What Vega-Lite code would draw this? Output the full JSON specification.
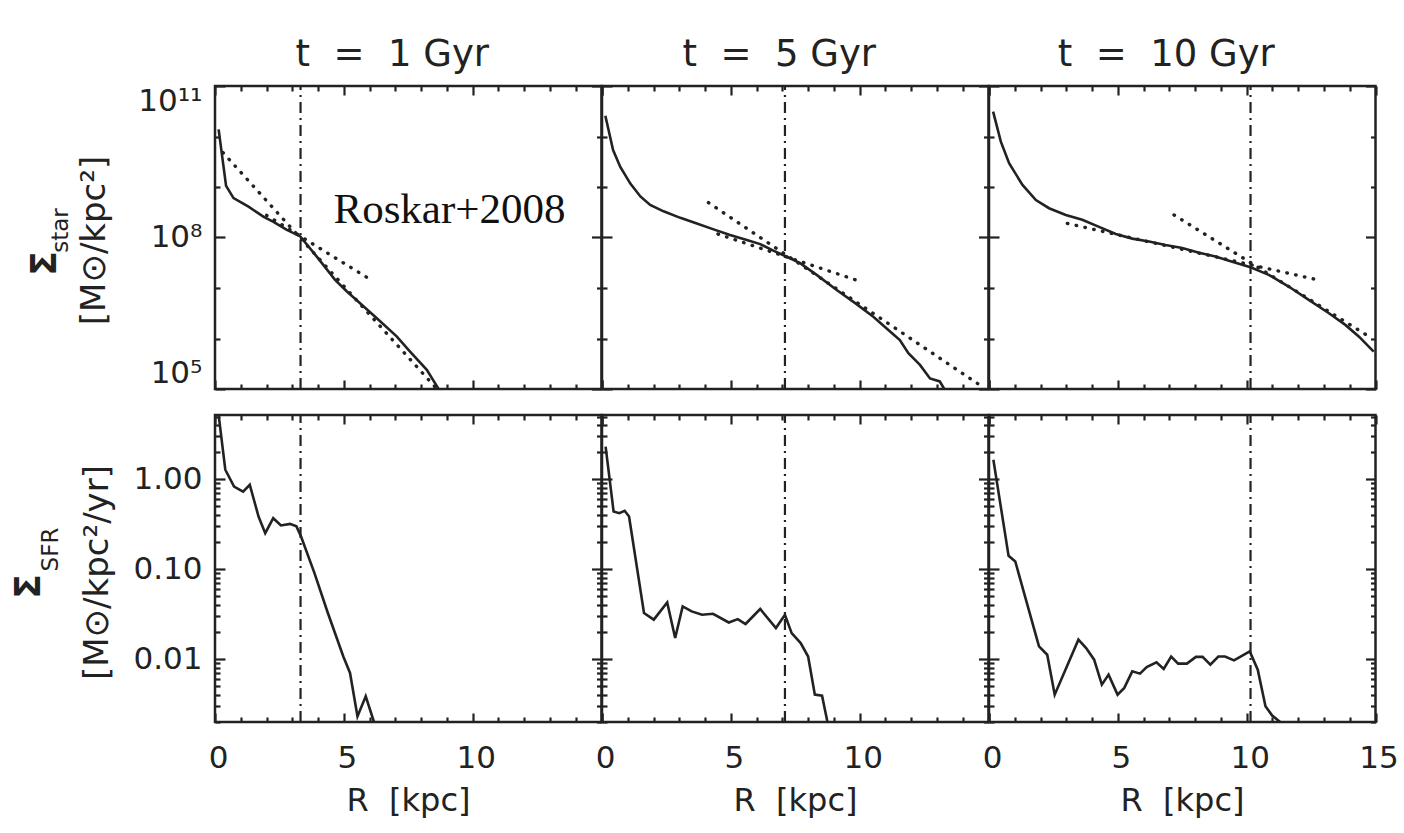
{
  "$schema": "https://vega.github.io/schema/vega-lite/v6.json",
  "background": "white",
  "padding": {"left": 8, "top": 34, "right": 10, "bottom": 8},
  "bounds": "flush",
  "align": "all",
  "columns": 3,
  "spacing": {"row": 22, "column": 0},
  "config": {
    "view": {"stroke": "#222", "strokeWidth": 2.5},
    "font": "DejaVu Sans",
    "axis": {"domain": false, "grid": false, "minExtent": 0, "maxExtent": 400, "tickColor": "#222", "tickWidth": 2.2, "labelColor": "#222", "labelFont": "DejaVu Sans", "labelFontSize": 31, "titleColor": "#222", "titleFont": "DejaVu Sans", "titleFontWeight": "normal", "labelFlush": false, "labelOverlap": false, "labelBound": false},
    "title": {"font": "DejaVu Sans", "fontSize": 37, "fontWeight": "normal", "color": "#222"}
  },
  "datasets": {
    "star": [
      {"t": 1, "R": 0.14, "v": 1.38e10}, {"t": 1, "R": 0.43, "v": 1.05e9}, {"t": 1, "R": 0.72, "v": 6.03e8}, {"t": 1, "R": 1.30, "v": 4.07e8}, {"t": 1, "R": 1.89, "v": 2.57e8}, {"t": 1, "R": 2.27, "v": 2.04e8}, {"t": 1, "R": 2.79, "v": 1.41e8}, {"t": 1, "R": 3.31, "v": 1.05e8}, {"t": 1, "R": 3.95, "v": 4.17e7}, {"t": 1, "R": 4.66, "v": 1.45e7}, {"t": 1, "R": 5.12, "v": 8.51e6}, {"t": 1, "R": 5.63, "v": 5.01e6}, {"t": 1, "R": 6.28, "v": 2.51e6}, {"t": 1, "R": 7.05, "v": 1.10e6}, {"t": 1, "R": 7.57, "v": 5.5e5}, {"t": 1, "R": 8.22, "v": 2.4e5}, {"t": 1, "R": 8.67, "v": 1.02e5},
      {"t": 5, "R": 0.13, "v": 2.57e10}, {"t": 5, "R": 0.43, "v": 5.4e9}, {"t": 5, "R": 0.71, "v": 2.5e9}, {"t": 5, "R": 1.10, "v": 1.17e9}, {"t": 5, "R": 1.49, "v": 6.5e8}, {"t": 5, "R": 1.87, "v": 4.4e8}, {"t": 5, "R": 2.39, "v": 3.3e8}, {"t": 5, "R": 3.04, "v": 2.45e8}, {"t": 5, "R": 3.68, "v": 1.9e8}, {"t": 5, "R": 4.33, "v": 1.45e8}, {"t": 5, "R": 4.97, "v": 1.12e8}, {"t": 5, "R": 5.62, "v": 8.9e7}, {"t": 5, "R": 6.14, "v": 7.4e7}, {"t": 5, "R": 6.65, "v": 5.5e7}, {"t": 5, "R": 7.11, "v": 4.3e7}, {"t": 5, "R": 7.69, "v": 3.1e7}, {"t": 5, "R": 8.33, "v": 1.82e7}, {"t": 5, "R": 9.11, "v": 9.1e6}, {"t": 5, "R": 9.88, "v": 4.8e6}, {"t": 5, "R": 10.53, "v": 2.7e6}, {"t": 5, "R": 11.18, "v": 1.38e6}, {"t": 5, "R": 11.56, "v": 9.3e5}, {"t": 5, "R": 11.89, "v": 5.1e5}, {"t": 5, "R": 12.34, "v": 3.0e5}, {"t": 5, "R": 12.73, "v": 1.62e5}, {"t": 5, "R": 13.11, "v": 1.41e5}, {"t": 5, "R": 13.31, "v": 9.5e4},
      {"t": 10, "R": 0.16, "v": 3.1e10}, {"t": 10, "R": 0.46, "v": 7.9e9}, {"t": 10, "R": 0.78, "v": 2.95e9}, {"t": 10, "R": 1.30, "v": 1.1e9}, {"t": 10, "R": 1.82, "v": 5.5e8}, {"t": 10, "R": 2.33, "v": 3.8e8}, {"t": 10, "R": 2.98, "v": 2.8e8}, {"t": 10, "R": 3.62, "v": 2.24e8}, {"t": 10, "R": 4.27, "v": 1.62e8}, {"t": 10, "R": 4.92, "v": 1.17e8}, {"t": 10, "R": 5.56, "v": 9.5e7}, {"t": 10, "R": 6.21, "v": 8.3e7}, {"t": 10, "R": 6.85, "v": 7.1e7}, {"t": 10, "R": 7.50, "v": 6.2e7}, {"t": 10, "R": 8.15, "v": 5.0e7}, {"t": 10, "R": 8.79, "v": 4.2e7}, {"t": 10, "R": 9.44, "v": 3.3e7}, {"t": 10, "R": 10.15, "v": 2.57e7}, {"t": 10, "R": 10.86, "v": 1.82e7}, {"t": 10, "R": 11.63, "v": 1.07e7}, {"t": 10, "R": 12.41, "v": 5.8e6}, {"t": 10, "R": 13.18, "v": 3.2e6}, {"t": 10, "R": 13.83, "v": 1.86e6}, {"t": 10, "R": 14.35, "v": 1.1e6}, {"t": 10, "R": 14.93, "v": 5.5e5}
    ],
    "fit": [
      {"t": 1, "seg": "a", "R": 2.0, "v": 2.75e8}, {"t": 1, "seg": "a", "R": 6.02, "v": 1.48e7},
      {"t": 1, "seg": "b", "R": 0.31, "v": 4.8e9}, {"t": 1, "seg": "b", "R": 8.6, "v": 1.02e5},
      {"t": 5, "seg": "a", "R": 4.5, "v": 1.17e8}, {"t": 5, "seg": "a", "R": 10.08, "v": 1.32e7},
      {"t": 5, "seg": "b", "R": 4.13, "v": 4.9e8}, {"t": 5, "seg": "b", "R": 14.66, "v": 1.2e5},
      {"t": 10, "seg": "a", "R": 3.04, "v": 1.9e8}, {"t": 10, "seg": "a", "R": 12.86, "v": 1.41e7},
      {"t": 10, "seg": "b", "R": 7.18, "v": 2.8e8}, {"t": 10, "seg": "b", "R": 14.87, "v": 1.0e6}
    ],
    "sfr": [
      {"t": 1, "R": 0.10, "v": 6.5}, {"t": 1, "R": 0.40, "v": 1.28}, {"t": 1, "R": 0.74, "v": 0.83}, {"t": 1, "R": 1.09, "v": 0.73}, {"t": 1, "R": 1.35, "v": 0.87}, {"t": 1, "R": 1.69, "v": 0.386}, {"t": 1, "R": 1.95, "v": 0.252}, {"t": 1, "R": 2.26, "v": 0.37}, {"t": 1, "R": 2.56, "v": 0.307}, {"t": 1, "R": 2.91, "v": 0.32}, {"t": 1, "R": 3.16, "v": 0.30}, {"t": 1, "R": 3.34, "v": 0.231}, {"t": 1, "R": 3.86, "v": 0.0907}, {"t": 1, "R": 4.38, "v": 0.0326}, {"t": 1, "R": 4.98, "v": 0.0107}, {"t": 1, "R": 5.24, "v": 0.00703}, {"t": 1, "R": 5.53, "v": 0.00231}, {"t": 1, "R": 5.85, "v": 0.00386}, {"t": 1, "R": 6.17, "v": 0.002},
      {"t": 5, "R": 0.14, "v": 2.31}, {"t": 5, "R": 0.45, "v": 0.439}, {"t": 5, "R": 0.67, "v": 0.421}, {"t": 5, "R": 0.88, "v": 0.447}, {"t": 5, "R": 1.05, "v": 0.386}, {"t": 5, "R": 1.63, "v": 0.0326}, {"t": 5, "R": 2.01, "v": 0.0275}, {"t": 5, "R": 2.53, "v": 0.0428}, {"t": 5, "R": 2.84, "v": 0.0172}, {"t": 5, "R": 3.13, "v": 0.0386}, {"t": 5, "R": 3.48, "v": 0.034}, {"t": 5, "R": 3.88, "v": 0.0312}, {"t": 5, "R": 4.31, "v": 0.032}, {"t": 5, "R": 4.92, "v": 0.0256}, {"t": 5, "R": 5.27, "v": 0.0279}, {"t": 5, "R": 5.57, "v": 0.0246}, {"t": 5, "R": 6.14, "v": 0.0361}, {"t": 5, "R": 6.75, "v": 0.0222}, {"t": 5, "R": 7.10, "v": 0.0312}, {"t": 5, "R": 7.36, "v": 0.0195}, {"t": 5, "R": 7.71, "v": 0.0151}, {"t": 5, "R": 8.00, "v": 0.0107}, {"t": 5, "R": 8.26, "v": 0.00403}, {"t": 5, "R": 8.54, "v": 0.00393}, {"t": 5, "R": 8.75, "v": 0.002},
      {"t": 10, "R": 0.17, "v": 1.65}, {"t": 10, "R": 0.76, "v": 0.141}, {"t": 10, "R": 1.02, "v": 0.122}, {"t": 10, "R": 1.94, "v": 0.0139}, {"t": 10, "R": 2.26, "v": 0.0112}, {"t": 10, "R": 2.55, "v": 0.00403}, {"t": 10, "R": 3.47, "v": 0.0165}, {"t": 10, "R": 3.77, "v": 0.0133}, {"t": 10, "R": 4.08, "v": 0.00987}, {"t": 10, "R": 4.38, "v": 0.00521}, {"t": 10, "R": 4.64, "v": 0.00673}, {"t": 10, "R": 4.99, "v": 0.00403}, {"t": 10, "R": 5.25, "v": 0.00479}, {"t": 10, "R": 5.56, "v": 0.00732}, {"t": 10, "R": 5.86, "v": 0.0069}, {"t": 10, "R": 6.12, "v": 0.00819}, {"t": 10, "R": 6.50, "v": 0.00921}, {"t": 10, "R": 6.78, "v": 0.00778}, {"t": 10, "R": 7.07, "v": 0.0107}, {"t": 10, "R": 7.34, "v": 0.00892}, {"t": 10, "R": 7.68, "v": 0.00892}, {"t": 10, "R": 8.03, "v": 0.0106}, {"t": 10, "R": 8.29, "v": 0.0106}, {"t": 10, "R": 8.59, "v": 0.00869}, {"t": 10, "R": 8.90, "v": 0.0107}, {"t": 10, "R": 9.16, "v": 0.0107}, {"t": 10, "R": 9.51, "v": 0.0097}, {"t": 10, "R": 10.12, "v": 0.0122}, {"t": 10, "R": 10.43, "v": 0.00764}, {"t": 10, "R": 10.73, "v": 0.00299}, {"t": 10, "R": 10.99, "v": 0.00236}, {"t": 10, "R": 11.30, "v": 0.002}
    ],
    "brk": [{"t": 1, "Rb": 3.32}, {"t": 5, "Rb": 7.1}, {"t": 10, "Rb": 10.15}]
  },
  "concat": [
    {
      "width": 386.5, "height": 303,
      "title": {"text": "t\u00a0\u00a0=\u00a0\u00a01 Gyr", "dx": -16, "offset": 11, "frame": "group", "anchor": "middle"},
      "resolve": {"axis": {"x": "independent", "y": "independent"}},
      "layer": [
        {
          "data": {"name": "star"}, "transform": [{"filter": "datum.t === 1"}],
          "mark": {"type": "line", "color": "#222", "strokeWidth": 2.6, "clip": true},
          "encoding": {
            "x": {"field": "R", "type": "quantitative", "scale": {"domain": [0, 15], "nice": false, "zero": false},
                  "axis": {"orient": "bottom", "values": [0,1,2,3,4,5,6,7,8,9,10,11,12,13,14,15], "labels": false, "tickSize": {"condition": {"test": "datum.value % 5 === 0", "value": -9}, "value": -5}, "title": null}},
            "y": {"field": "v", "type": "quantitative", "scale": {"type": "log", "domain": [1e5, 1e11], "nice": false},
                  "axis": {"orient": "left", "values": [1e5,1e6,1e7,1e8,1e9,1e10,1e11], "labelExpr": "datum.value === 1e11 ? '10\u00b9\u00b9' : datum.value === 1e8 ? '10\u2078' : datum.value === 1e5 ? '10\u2075' : ''", "labelFlush": true, "labelPadding": 23, "tickSize": {"condition": {"test": "datum.value === 1e5 || datum.value === 1e8 || datum.value === 1e11", "value": -10}, "value": -5},
                           "title": "[M\u2299/kpc\u00b2]", "titleX": -121, "titleY": 154, "titleAngle": 270, "titleAlign": "center", "titleBaseline": "middle", "titleFontSize": 34}}
          }
        },
        {
          "data": {"name": "fit"}, "transform": [{"filter": "datum.t === 1"}],
          "mark": {"type": "line", "color": "#222", "strokeWidth": 3.4, "strokeDash": [0.5, 8.5], "strokeCap": "round", "clip": true},
          "encoding": {"x": {"field": "R", "type": "quantitative", "axis": null}, "y": {"field": "v", "type": "quantitative", "axis": null}, "detail": {"field": "seg"}}
        },
        {
          "data": {"name": "brk"}, "transform": [{"filter": "datum.t === 1"}],
          "mark": {"type": "rule", "color": "#222", "strokeWidth": 2.2, "strokeDash": [11, 5, 2, 5]},
          "encoding": {
            "x": {"field": "Rb", "type": "quantitative", "axis": {"orient": "top", "values": [0,1,2,3,4,5,6,7,8,9,10,11,12,13,14,15], "labels": false, "tickSize": {"condition": {"test": "datum.value % 5 === 0", "value": -9}, "value": -5},
                   "title": "\u03a3", "titleX": -171, "titleY": 177, "titleAngle": 270, "titleAlign": "center", "titleBaseline": "middle", "titleFontSize": 36, "titleFontWeight": "bold"}},
            "y": {"datum": 1e5, "type": "quantitative", "axis": {"orient": "right", "values": [1e5,1e6,1e7,1e8,1e9,1e10,1e11], "labels": false, "tickSize": {"condition": {"test": "datum.value === 1e5 || datum.value === 1e8 || datum.value === 1e11", "value": -10}, "value": -5},
                   "title": "star", "titleX": -541.5, "titleY": 144, "titleAngle": 270, "titleAlign": "center", "titleBaseline": "middle", "titleFontSize": 23}},
            "y2": {"datum": 1e11}
          }
        },
        {
          "data": {"values": [{"label": "Roskar+2008"}]},
          "mark": {"type": "text", "font": "Liberation Serif", "fontSize": 43, "align": "center", "baseline": "alphabetic", "color": "#111"},
          "encoding": {"x": {"datum": 9.1, "type": "quantitative", "axis": null}, "y": {"datum": 1.95e8, "type": "quantitative", "axis": null}, "text": {"field": "label"}}
        }
      ]
    },
    {
      "width": 386.5, "height": 303,
      "title": {"text": "t\u00a0\u00a0=\u00a0\u00a05 Gyr", "dx": -16, "offset": 11, "frame": "group", "anchor": "middle"},
      "resolve": {"axis": {"x": "independent", "y": "independent"}},
      "layer": [
        {
          "data": {"name": "star"}, "transform": [{"filter": "datum.t === 5"}],
          "mark": {"type": "line", "color": "#222", "strokeWidth": 2.6, "clip": true},
          "encoding": {
            "x": {"field": "R", "type": "quantitative", "scale": {"domain": [0, 15], "nice": false, "zero": false},
                  "axis": {"orient": "bottom", "values": [0,1,2,3,4,5,6,7,8,9,10,11,12,13,14,15], "labels": false, "tickSize": {"condition": {"test": "datum.value % 5 === 0", "value": -9}, "value": -5}, "title": null}},
            "y": {"field": "v", "type": "quantitative", "scale": {"type": "log", "domain": [1e5, 1e11], "nice": false},
                  "axis": {"orient": "left", "values": [1e5,1e6,1e7,1e8,1e9,1e10,1e11], "labels": false, "tickSize": {"condition": {"test": "datum.value === 1e5 || datum.value === 1e8 || datum.value === 1e11", "value": -10}, "value": -5}, "title": null}}
          }
        },
        {
          "data": {"name": "fit"}, "transform": [{"filter": "datum.t === 5"}],
          "mark": {"type": "line", "color": "#222", "strokeWidth": 3.4, "strokeDash": [0.5, 8.5], "strokeCap": "round", "clip": true},
          "encoding": {"x": {"field": "R", "type": "quantitative", "axis": null}, "y": {"field": "v", "type": "quantitative", "axis": null}, "detail": {"field": "seg"}}
        },
        {
          "data": {"name": "brk"}, "transform": [{"filter": "datum.t === 5"}],
          "mark": {"type": "rule", "color": "#222", "strokeWidth": 2.2, "strokeDash": [11, 5, 2, 5]},
          "encoding": {
            "x": {"field": "Rb", "type": "quantitative", "axis": {"orient": "top", "values": [0,1,2,3,4,5,6,7,8,9,10,11,12,13,14,15], "labels": false, "tickSize": {"condition": {"test": "datum.value % 5 === 0", "value": -9}, "value": -5}, "title": null}},
            "y": {"datum": 1e5, "type": "quantitative", "axis": {"orient": "right", "values": [1e5,1e6,1e7,1e8,1e9,1e10,1e11], "labels": false, "tickSize": {"condition": {"test": "datum.value === 1e5 || datum.value === 1e8 || datum.value === 1e11", "value": -10}, "value": -5}, "title": null}},
            "y2": {"datum": 1e11}
          }
        }
      ]
    },
    {
      "width": 386.5, "height": 303,
      "title": {"text": "t\u00a0\u00a0=\u00a0\u00a010 Gyr", "dx": -16, "offset": 11, "frame": "group", "anchor": "middle"},
      "resolve": {"axis": {"x": "independent", "y": "independent"}},
      "layer": [
        {
          "data": {"name": "star"}, "transform": [{"filter": "datum.t === 10"}],
          "mark": {"type": "line", "color": "#222", "strokeWidth": 2.6, "clip": true},
          "encoding": {
            "x": {"field": "R", "type": "quantitative", "scale": {"domain": [0, 15], "nice": false, "zero": false},
                  "axis": {"orient": "bottom", "values": [0,1,2,3,4,5,6,7,8,9,10,11,12,13,14,15], "labels": false, "tickSize": {"condition": {"test": "datum.value % 5 === 0", "value": -9}, "value": -5}, "title": null}},
            "y": {"field": "v", "type": "quantitative", "scale": {"type": "log", "domain": [1e5, 1e11], "nice": false},
                  "axis": {"orient": "left", "values": [1e5,1e6,1e7,1e8,1e9,1e10,1e11], "labels": false, "tickSize": {"condition": {"test": "datum.value === 1e5 || datum.value === 1e8 || datum.value === 1e11", "value": -10}, "value": -5}, "title": null}}
          }
        },
        {
          "data": {"name": "fit"}, "transform": [{"filter": "datum.t === 10"}],
          "mark": {"type": "line", "color": "#222", "strokeWidth": 3.4, "strokeDash": [0.5, 8.5], "strokeCap": "round", "clip": true},
          "encoding": {"x": {"field": "R", "type": "quantitative", "axis": null}, "y": {"field": "v", "type": "quantitative", "axis": null}, "detail": {"field": "seg"}}
        },
        {
          "data": {"name": "brk"}, "transform": [{"filter": "datum.t === 10"}],
          "mark": {"type": "rule", "color": "#222", "strokeWidth": 2.2, "strokeDash": [11, 5, 2, 5]},
          "encoding": {
            "x": {"field": "Rb", "type": "quantitative", "axis": {"orient": "top", "values": [0,1,2,3,4,5,6,7,8,9,10,11,12,13,14,15], "labels": false, "tickSize": {"condition": {"test": "datum.value % 5 === 0", "value": -9}, "value": -5}, "title": null}},
            "y": {"datum": 1e5, "type": "quantitative", "axis": {"orient": "right", "values": [1e5,1e6,1e7,1e8,1e9,1e10,1e11], "labels": false, "tickSize": {"condition": {"test": "datum.value === 1e5 || datum.value === 1e8 || datum.value === 1e11", "value": -10}, "value": -5}, "title": null}},
            "y2": {"datum": 1e11}
          }
        }
      ]
    },
    {
      "width": 386.5, "height": 307,
      "resolve": {"axis": {"x": "independent", "y": "independent"}},
      "layer": [
        {
          "data": {"name": "sfr"}, "transform": [{"filter": "datum.t === 1"}],
          "mark": {"type": "line", "color": "#222", "strokeWidth": 2.6, "clip": true},
          "encoding": {
            "x": {"field": "R", "type": "quantitative", "scale": {"domain": [0, 15], "nice": false, "zero": false},
                  "axis": {"orient": "bottom", "values": [0,1,2,3,4,5,6,7,8,9,10,11,12,13,14,15], "labelExpr": "datum.value % 5 === 0 && datum.value < 15 ? datum.label : ''", "labelBaseline": "alphabetic", "labelPadding": 54, "labelOffset": 3, "tickSize": {"condition": {"test": "datum.value % 5 === 0", "value": -9}, "value": -5},
                           "title": "R\u00a0\u00a0[kpc]", "titleX": 193, "titleY": 88, "titleAlign": "center", "titleBaseline": "alphabetic", "titleFontSize": 32}},
            "y": {"field": "v", "type": "quantitative", "scale": {"type": "log", "domain": [0.002, 5.2], "nice": false},
                  "axis": {"orient": "left", "values": [0.002,0.003,0.004,0.005,0.006,0.007,0.008,0.009,0.01,0.02,0.03,0.04,0.05,0.06,0.07,0.08,0.09,0.1,0.2,0.3,0.4,0.5,0.6,0.7,0.8,0.9,1,2,3,4,5], "labelExpr": "datum.value === 1 ? '1.00' : datum.value === 0.1 ? '0.10' : datum.value === 0.01 ? '0.01' : ''", "labelPadding": 23, "tickSize": {"condition": {"test": "datum.value === 0.01 || datum.value === 0.1 || datum.value === 1", "value": -10}, "value": -5},
                           "title": "[M\u2299/kpc\u00b2/yr]", "titleX": -118, "titleY": 157, "titleAngle": 270, "titleAlign": "center", "titleBaseline": "middle", "titleFontSize": 34}}
          }
        },
        {
          "data": {"name": "brk"}, "transform": [{"filter": "datum.t === 1"}],
          "mark": {"type": "rule", "color": "#222", "strokeWidth": 2.2, "strokeDash": [11, 5, 2, 5]},
          "encoding": {
            "x": {"field": "Rb", "type": "quantitative", "axis": {"orient": "top", "values": [0,1,2,3,4,5,6,7,8,9,10,11,12,13,14,15], "labels": false, "tickSize": {"condition": {"test": "datum.value % 5 === 0", "value": -9}, "value": -5},
                   "title": "\u03a3", "titleX": -187, "titleY": 171, "titleAngle": 270, "titleAlign": "center", "titleBaseline": "middle", "titleFontSize": 36, "titleFontWeight": "bold"}},
            "y": {"datum": 0.002, "type": "quantitative", "axis": {"orient": "right", "values": [0.002,0.003,0.004,0.005,0.006,0.007,0.008,0.009,0.01,0.02,0.03,0.04,0.05,0.06,0.07,0.08,0.09,0.1,0.2,0.3,0.4,0.5,0.6,0.7,0.8,0.9,1,2,3,4,5], "labels": false, "tickSize": {"condition": {"test": "datum.value === 0.01 || datum.value === 0.1 || datum.value === 1", "value": -10}, "value": -5},
                   "title": "SFR", "titleX": -551.5, "titleY": 134, "titleAngle": 270, "titleAlign": "center", "titleBaseline": "middle", "titleFontSize": 23}},
            "y2": {"datum": 5.2}
          }
        }
      ]
    },
    {
      "width": 386.5, "height": 307,
      "resolve": {"axis": {"x": "independent", "y": "independent"}},
      "layer": [
        {
          "data": {"name": "sfr"}, "transform": [{"filter": "datum.t === 5"}],
          "mark": {"type": "line", "color": "#222", "strokeWidth": 2.6, "clip": true},
          "encoding": {
            "x": {"field": "R", "type": "quantitative", "scale": {"domain": [0, 15], "nice": false, "zero": false},
                  "axis": {"orient": "bottom", "values": [0,1,2,3,4,5,6,7,8,9,10,11,12,13,14,15], "labelExpr": "datum.value % 5 === 0 && datum.value < 15 ? datum.label : ''", "labelBaseline": "alphabetic", "labelPadding": 54, "labelOffset": 3, "tickSize": {"condition": {"test": "datum.value % 5 === 0", "value": -9}, "value": -5},
                           "title": "R\u00a0\u00a0[kpc]", "titleX": 193, "titleY": 88, "titleAlign": "center", "titleBaseline": "alphabetic", "titleFontSize": 32}},
            "y": {"field": "v", "type": "quantitative", "scale": {"type": "log", "domain": [0.002, 5.2], "nice": false},
                  "axis": {"orient": "left", "values": [0.002,0.003,0.004,0.005,0.006,0.007,0.008,0.009,0.01,0.02,0.03,0.04,0.05,0.06,0.07,0.08,0.09,0.1,0.2,0.3,0.4,0.5,0.6,0.7,0.8,0.9,1,2,3,4,5], "labels": false, "tickSize": {"condition": {"test": "datum.value === 0.01 || datum.value === 0.1 || datum.value === 1", "value": -10}, "value": -5}, "title": null}}
          }
        },
        {
          "data": {"name": "brk"}, "transform": [{"filter": "datum.t === 5"}],
          "mark": {"type": "rule", "color": "#222", "strokeWidth": 2.2, "strokeDash": [11, 5, 2, 5]},
          "encoding": {
            "x": {"field": "Rb", "type": "quantitative", "axis": {"orient": "top", "values": [0,1,2,3,4,5,6,7,8,9,10,11,12,13,14,15], "labels": false, "tickSize": {"condition": {"test": "datum.value % 5 === 0", "value": -9}, "value": -5}, "title": null}},
            "y": {"datum": 0.002, "type": "quantitative", "axis": {"orient": "right", "values": [0.002,0.003,0.004,0.005,0.006,0.007,0.008,0.009,0.01,0.02,0.03,0.04,0.05,0.06,0.07,0.08,0.09,0.1,0.2,0.3,0.4,0.5,0.6,0.7,0.8,0.9,1,2,3,4,5], "labels": false, "tickSize": {"condition": {"test": "datum.value === 0.01 || datum.value === 0.1 || datum.value === 1", "value": -10}, "value": -5}, "title": null}},
            "y2": {"datum": 5.2}
          }
        }
      ]
    },
    {
      "width": 386.5, "height": 307,
      "resolve": {"axis": {"x": "independent", "y": "independent"}},
      "layer": [
        {
          "data": {"name": "sfr"}, "transform": [{"filter": "datum.t === 10"}],
          "mark": {"type": "line", "color": "#222", "strokeWidth": 2.6, "clip": true},
          "encoding": {
            "x": {"field": "R", "type": "quantitative", "scale": {"domain": [0, 15], "nice": false, "zero": false},
                  "axis": {"orient": "bottom", "values": [0,1,2,3,4,5,6,7,8,9,10,11,12,13,14,15], "labelExpr": "datum.value % 5 === 0 ? datum.label : ''", "labelBaseline": "alphabetic", "labelPadding": 54, "labelOffset": 3, "tickSize": {"condition": {"test": "datum.value % 5 === 0", "value": -9}, "value": -5},
                           "title": "R\u00a0\u00a0[kpc]", "titleX": 193, "titleY": 88, "titleAlign": "center", "titleBaseline": "alphabetic", "titleFontSize": 32}},
            "y": {"field": "v", "type": "quantitative", "scale": {"type": "log", "domain": [0.002, 5.2], "nice": false},
                  "axis": {"orient": "left", "values": [0.002,0.003,0.004,0.005,0.006,0.007,0.008,0.009,0.01,0.02,0.03,0.04,0.05,0.06,0.07,0.08,0.09,0.1,0.2,0.3,0.4,0.5,0.6,0.7,0.8,0.9,1,2,3,4,5], "labels": false, "tickSize": {"condition": {"test": "datum.value === 0.01 || datum.value === 0.1 || datum.value === 1", "value": -10}, "value": -5}, "title": null}}
          }
        },
        {
          "data": {"name": "brk"}, "transform": [{"filter": "datum.t === 10"}],
          "mark": {"type": "rule", "color": "#222", "strokeWidth": 2.2, "strokeDash": [11, 5, 2, 5]},
          "encoding": {
            "x": {"field": "Rb", "type": "quantitative", "axis": {"orient": "top", "values": [0,1,2,3,4,5,6,7,8,9,10,11,12,13,14,15], "labels": false, "tickSize": {"condition": {"test": "datum.value % 5 === 0", "value": -9}, "value": -5}, "title": null}},
            "y": {"datum": 0.002, "type": "quantitative", "axis": {"orient": "right", "values": [0.002,0.003,0.004,0.005,0.006,0.007,0.008,0.009,0.01,0.02,0.03,0.04,0.05,0.06,0.07,0.08,0.09,0.1,0.2,0.3,0.4,0.5,0.6,0.7,0.8,0.9,1,2,3,4,5], "labels": false, "tickSize": {"condition": {"test": "datum.value === 0.01 || datum.value === 0.1 || datum.value === 1", "value": -10}, "value": -5}, "title": null}},
            "y2": {"datum": 5.2}
          }
        }
      ]
    }
  ]
}
